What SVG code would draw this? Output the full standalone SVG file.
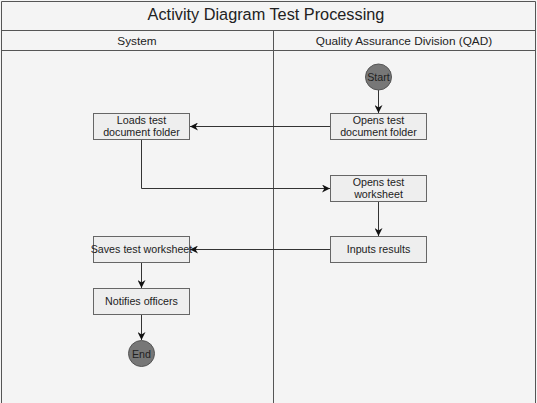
<svg xmlns="http://www.w3.org/2000/svg" width="537" height="403" viewBox="0 0 537 403">
<style>
text{font-family:"Liberation Sans",Arial,sans-serif;fill:#222;text-anchor:middle}
.t{font-size:16.3px}
.h{font-size:11.8px}
.n{font-size:10.7px}
.box{fill:#eeeeee;stroke:#666;stroke-width:1}
.circ{fill:#777;stroke:#555;stroke-width:1}
.frame{fill:none;stroke:#555;stroke-width:1}
.c{fill:none;stroke:#333;stroke-width:1}
</style>
<defs>
<marker id="arr" viewBox="0 0 10 10" refX="10" refY="5" markerWidth="8" markerHeight="8" markerUnits="userSpaceOnUse" orient="auto">
<path d="M0,0 L10,5 L0,10 L3,5 z" fill="#111"/>
</marker>
</defs>
<rect width="537" height="403" fill="#f4f4f4"/>
<g id="frame">
<path class="frame" d="M1.5,410 V1.5 H535.5 V410 M1.5,30.5 H535.5 M1.5,50.5 H535.5 M273.5,30.5 V410"/>
<text class="t" x="266" y="20">Activity Diagram Test Processing</text>
<text class="h" x="137" y="45">System</text>
<text class="h" x="404" y="45">Quality Assurance Division (QAD)</text>
</g>
<g id="connectors">
<path class="c" d="M378.5,90 V113" marker-end="url(#arr)"/>
<path class="c" d="M330,126.5 H190" marker-end="url(#arr)"/>
<path class="c" d="M141.5,139 V188.5 H330" marker-end="url(#arr)"/>
<path class="c" d="M378.5,201 V236" marker-end="url(#arr)"/>
<path class="c" d="M330,249.5 H190" marker-end="url(#arr)"/>
<path class="c" d="M141.5,262 V288" marker-end="url(#arr)"/>
<path class="c" d="M141.5,314 V340" marker-end="url(#arr)"/>
</g>
<g id="start">
<circle class="circ" cx="378.5" cy="77" r="13"/>
<text class="n" x="378.5" y="81">Start</text>
</g>
<g id="opens-folder">
<rect class="box" x="330.5" y="113.5" width="96" height="26"/>
<text class="n" x="378.5" y="124">Opens test</text>
<text class="n" x="378.5" y="136">document folder</text>
</g>
<g id="loads-folder">
<rect class="box" x="93.5" y="113.5" width="96" height="26"/>
<text class="n" x="141.5" y="124">Loads test</text>
<text class="n" x="141.5" y="136">document folder</text>
</g>
<g id="opens-worksheet">
<rect class="box" x="330.5" y="175.5" width="96" height="26"/>
<text class="n" x="378.5" y="186">Opens test</text>
<text class="n" x="378.5" y="198">worksheet</text>
</g>
<g id="inputs-results">
<rect class="box" x="330.5" y="236.5" width="96" height="26"/>
<text class="n" x="378.5" y="253">Inputs results</text>
</g>
<g id="saves-worksheet">
<rect class="box" x="93.5" y="236.5" width="96" height="26"/>
<text class="n" x="141.5" y="253">Saves test worksheet</text>
</g>
<g id="notifies-officers">
<rect class="box" x="93.5" y="288.5" width="96" height="26"/>
<text class="n" x="141.5" y="305">Notifies officers</text>
</g>
<g id="end">
<circle class="circ" cx="141.5" cy="353.5" r="13"/>
<text class="n" x="141.5" y="357.5">End</text>
</g>
</svg>
